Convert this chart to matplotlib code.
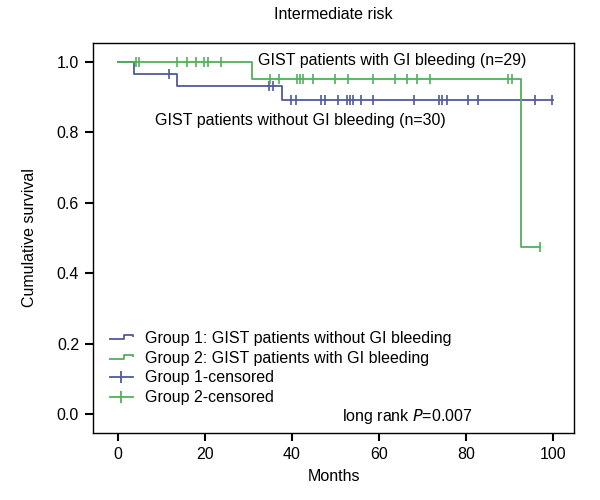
import numpy as np
import matplotlib
matplotlib.use('Agg')
import matplotlib.pyplot as plt
from matplotlib.lines import Line2D
from matplotlib.path import Path

plt.rcParams['font.family'] = ['Liberation Sans', 'DejaVu Sans']

# Group 1: without GI bleeding (n=30)
g1_times = [0, 3.8, 13.7, 37.6]
g1_surv = [1.0, 0.967, 0.932, 0.892]
g1_end = 100.0
g1_censored = [11.7, 34.7, 35.7, 39.7, 40.9, 46.7, 47.6, 50.6, 52.6, 53.3, 54.1,
               55.9, 58.7, 67.9, 73.7, 74.4, 75.5, 80.5, 82.8, 95.9, 99.7]

# Group 2: with GI bleeding (n=29)
g2_times = [0, 30.7, 92.6]
g2_surv = [1.0, 0.952, 0.475]
g2_end = 96.9
g2_censored = [4.1, 4.8, 13.7, 15.8, 17.9, 19.9, 20.6, 23.7, 34.9, 36.9, 41.1,
               41.8, 42.6, 44.9, 49.9, 52.9, 58.7, 63.7, 66.4, 68.7, 71.7, 89.7,
               90.5, 96.9]

blue = '#4e5a9c'
green = '#52b05a'
fs = 11.5


def surv_at(times, surv, t):
    idx = np.searchsorted(times, t, side='right') - 1
    return np.asarray(surv)[idx]


fig = plt.figure(figsize=(6, 5), dpi=100)
ax = fig.add_axes([0.155, 0.134, 0.802, 0.78])

for times, surv, end, cens, col in [(g1_times, g1_surv, g1_end, g1_censored, blue),
                                    (g2_times, g2_surv, g2_end, g2_censored, green)]:
    ax.step(times + [end], surv + [surv[-1]], where='post', color=col, lw=1.3)
    ax.plot(cens, surv_at(times, surv, cens), linestyle='None', marker='|',
            markersize=7, mew=1.2, color=col)

ax.set_xlim(-5.7, 104.8)
ax.set_ylim(-0.054, 1.054)
ax.set_xticks([0, 20, 40, 60, 80, 100])
ax.set_yticks([0.0, 0.2, 0.4, 0.6, 0.8, 1.0])
ax.set_yticklabels(['0.0', '0.2', '0.4', '0.6', '0.8', '1.0'])
ax.tick_params(direction='out', length=6, width=1.5, labelsize=fs, pad=4)
for s in ax.spines.values():
    s.set_linewidth(1.0)

ax.set_xlabel('Months', fontsize=fs, labelpad=5)
ax.set_ylabel('Cumulative survival', fontsize=fs, labelpad=14)
ax.set_title('Intermediate risk', fontsize=fs, pad=17)

ax.text(32.2, 1.003, 'GIST patients with GI bleeding (n=29)', fontsize=fs, va='center')
ax.text(8.6, 0.835, 'GIST patients without GI bleeding (n=30)', fontsize=fs, va='center')
ax.text(51.5, -0.006, 'long rank $\\mathit{P}$=0.007', fontsize=fs, va='center')

step_icon = Path([(-1, -0.15), (0.25, -0.15), (0.25, 0.15), (1, 0.15), (1, 0.0)])
handles = [
    Line2D([], [], linestyle='None', marker=step_icon, markersize=17, mew=1.3,
           color=blue, fillstyle='none'),
    Line2D([], [], linestyle='None', marker=step_icon, markersize=17, mew=1.3,
           color=green, fillstyle='none'),
    Line2D([], [], color=blue, lw=1.3, marker='|', markersize=9, mew=1.3),
    Line2D([], [], color=green, lw=1.3, marker='|', markersize=9, mew=1.3),
]
labels = ['Group 1: GIST patients without GI bleeding',
          'Group 2: GIST patients with GI bleeding',
          'Group 1-censored', 'Group 2-censored']
ax.legend(handles, labels, loc='upper left', bbox_to_anchor=(0.035, 0.262),
          frameon=False, fontsize=fs, borderpad=0, borderaxespad=0,
          handlelength=1.45, handletextpad=0.75, labelspacing=0.3)

fig.savefig('out.png', dpi=100)
